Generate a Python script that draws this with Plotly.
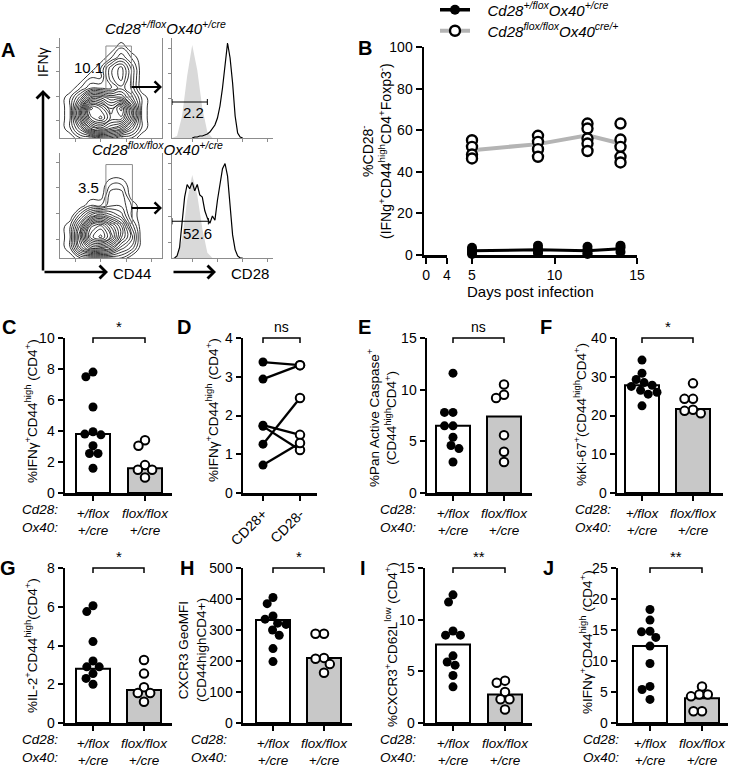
import math
import plotly.graph_objects as go

W, H = 732, 768
REG = "Liberation Sans, Arial, Helvetica, sans-serif"

# ======================= DATA =======================
# --- Panel A: flow cytometry (density grid, arbitrary units)
A_grid = [0, 1, 2, 3, 4, 5, 6, 7, 8, 9, 10]
A_top_density = [
    [0, 0, 1, 1, 2, 2, 1, 1, 0, 0, 0],
    [0, 1, 3, 6, 7, 6, 5, 3, 1, 0, 0],
    [0, 1, 5, 9, 10, 8, 8, 5, 1, 0, 0],
    [0, 1, 5, 10, 9, 7, 9, 5, 1, 0, 0],
    [0, 1, 3, 6, 6, 5, 5, 3, 1, 0, 0],
    [0, 0, 1, 2, 2, 2, 3, 2, 0, 0, 0],
    [0, 0, 0, 1, 1, 3, 4, 2, 0, 0, 0],
    [0, 0, 0, 0, 1, 3, 4, 2, 0, 0, 0],
    [0, 0, 0, 0, 0, 1, 2, 1, 0, 0, 0],
    [0, 0, 0, 0, 0, 0, 1, 0, 0, 0, 0],
    [0, 0, 0, 0, 0, 0, 0, 0, 0, 0, 0],
]
A_bottom_density = [
    [0, 0, 1, 1, 1, 1, 1, 0, 0, 0, 0],
    [0, 1, 4, 6, 6, 5, 3, 2, 0, 0, 0],
    [0, 1, 5, 9, 10, 8, 5, 3, 0, 0, 0],
    [0, 1, 4, 8, 9, 7, 5, 2, 0, 0, 0],
    [0, 0, 2, 4, 5, 4, 3, 1, 0, 0, 0],
    [0, 0, 0, 1, 1, 2, 2, 1, 0, 0, 0],
    [0, 0, 0, 0, 0, 2, 2, 0, 0, 0, 0],
    [0, 0, 0, 0, 0, 1, 1, 0, 0, 0, 0],
    [0, 0, 0, 0, 0, 0, 0, 0, 0, 0, 0],
    [0, 0, 0, 0, 0, 0, 0, 0, 0, 0, 0],
    [0, 0, 0, 0, 0, 0, 0, 0, 0, 0, 0],
]
A_iso_x = [0, 0.5, 1.0, 1.5, 2.0, 2.5, 3.0, 3.5, 4.0, 4.5]
A_top_iso_y = [0, 2, 22, 62, 93, 68, 30, 6, 0, 0]
A_bottom_iso_y = [0, 2, 18, 55, 79, 60, 28, 5, 0, 0]
A_top_cd28_x = [2.0, 2.25, 2.5, 2.75, 3.0, 3.25, 3.5, 3.75, 4.0, 4.25, 4.5, 4.75, 5.0,
                5.25, 5.5, 5.75, 6.0, 6.25, 6.5, 6.75, 7.0]
A_top_cd28_y = [0, 1, 1, 2, 2, 3, 4, 6, 9, 13, 20, 32, 50, 72, 95, 80, 55, 22, 5, 1, 0]
A_bottom_cd28_x = [0.25, 0.5, 0.75, 1.0, 1.25, 1.5, 1.75, 2.0, 2.25, 2.5, 2.75, 3.0, 3.25, 3.5,
                   3.75, 4.0, 4.25, 4.5, 4.75, 5.0, 5.25, 5.5, 5.75, 6.0, 6.25, 6.5, 6.75, 7.0]
A_bottom_cd28_y = [0, 2, 10, 35, 58, 70, 66, 72, 64, 70, 60, 58, 45, 38,
                   33, 40, 36, 55, 72, 85, 90, 78, 50, 22, 8, 2, 0, 0]
A_gate_pct = ["10.1", "3.5"]
A_hist_pct = ["2.2", "52.6"]

# --- Panel B: %CD28- over time
B_days = [5, 9, 12, 14]
B_het_points = [[3.5, 2.5, 1.5, 0.5], [4.5, 3.0, 1.5, 1.0], [4.0, 2.5, 1.0, 0.5], [4.5, 3.5, 1.5]]
B_het_mean = [2.0, 2.5, 2.0, 3.0]
B_ko_points = [[55.2, 52.0, 48.3, 46.4], [57.3, 54.4, 50.9, 47.2],
               [63.2, 60.8, 56.0, 53.6, 50.0], [63.2, 55.5, 52.0, 47.2, 44.5]]
B_ko_mean = [50.4, 53.3, 57.6, 53.6]
B_legend = ["<i>Cd28<sup>+/flox</sup>Ox40<sup>+/cre</sup></i>",
            "<i>Cd28<sup>flox/flox</sup>Ox40<sup>cre/+</sup></i>"]

# --- Panels C, E-J: individual mice + bar = mean
C_het = [7.8, 7.5, 5.55, 3.95, 3.8, 3.75, 3.05, 2.55, 2.55, 1.6]
C_ko = [3.4, 3.05, 1.8, 1.5, 1.5, 1.0]
C_bar = [3.8, 1.6]
E_het = [11.6, 7.8, 7.8, 6.5, 6.5, 5.4, 4.6, 4.3, 3.0]
E_ko = [10.5, 9.5, 9.2, 5.6, 4.0, 3.0]
E_bar = [6.5, 7.4]
F_het = [34.3, 30.9, 29.3, 28.5, 27.8, 27.5, 26.5, 26.0, 25.5, 22.5]
F_ko = [28.3, 24.3, 24.3, 21.5, 20.6, 21.2]
F_bar = [27.8, 21.7]
G_het = [6.05, 5.75, 4.2, 3.2, 2.9, 2.9, 2.55, 2.3, 2.0]
G_ko = [3.25, 2.55, 1.85, 1.55, 1.55, 1.1]
G_bar = [2.8, 1.7]
H_het = [405, 385, 345, 335, 322, 318, 300, 283, 240, 198]
H_ko = [288, 288, 210, 207, 190, 162]
H_bar = [332, 210]
I_het = [12.4, 11.7, 8.9, 8.5, 8.5, 6.5, 5.9, 5.6, 4.6, 3.5]
I_ko = [4.1, 3.9, 3.0, 2.3, 2.3, 1.3]
I_bar = [7.6, 2.75]
J_het = [18.3, 16.6, 14.8, 14.7, 13.8, 12.4, 9.6, 5.9, 5.4, 3.8]
J_ko = [5.9, 4.6, 4.6, 4.3, 1.9, 1.9]
J_bar = [12.4, 4.0]

# --- Panel D: paired CD28+ / CD28- within the same mouse
D_cd28pos = [3.38, 2.94, 1.75, 1.72, 1.26, 0.72]
D_cd28neg = [3.3, 3.3, 1.5, 1.11, 2.45, 1.29]
D_labels = ["CD28+", "CD28-"]

CAT_CD28 = ["+/flox", "flox/flox"]
CAT_OX40 = ["+/cre", "+/cre"]
ROW_LABELS = ["Cd28:", "Ox40:"]

Y_TITLES = {
    "C": "%IFNγ<sup>+</sup>CD44<sup>high</sup> (CD4<sup>+</sup>)",
    "D": "%IFNγ<sup>+</sup>CD44<sup>high</sup> (CD4<sup>+</sup>)",
    "E": "%Pan Active Caspase<sup>+</sup><br>(CD44<sup>high</sup>CD4<sup>+</sup>)",
    "F": "%Ki-67<sup>+</sup>(CD44<sup>high</sup>CD4<sup>+</sup>)",
    "G": "%IL-2<sup>+</sup>CD44<sup>high</sup>(CD4<sup>+</sup>)",
    "H": "CXCR3 GeoMFI<br>(CD44highCD4+)",
    "I": "%CXCR3<sup>+</sup>CD62L<sup>low</sup> (CD4<sup>+</sup>)",
    "J": "%IFNγ<sup>+</sup>CD44<sup>high</sup> (CD4<sup>+</sup>)",
}
SIG = {"C": "*", "D": "ns", "E": "ns", "F": "*", "G": "*", "H": "*", "I": "**", "J": "**"}
Y_MAX = {"C": (10, 2), "D": (4, 1), "E": (15, 5), "F": (40, 10),
         "G": (8, 2), "H": (500, 100), "I": (15, 5), "J": (25, 5)}

# ======================= LAYOUT GEOMETRY (pixels) =======================
GEOM = {  # y-axis x, x-axis end, category 0/1 centres, top, bottom, y-title centre, row-label x
    "C": dict(l=65, r=172, c0=93, c1=145, t=338, b=493, tx=31, ty=411, rx=40),
    "D": dict(l=243, r=317, c0=263, c1=300, t=338, b=493, tx=212, ty=410, rx=None),
    "E": dict(l=427, r=532, c0=453, c1=504, t=338, b=493, tx=381, ty=418, rx=398),
    "F": dict(l=617, r=723, c0=642, c1=693, t=338, b=493, tx=580, ty=415, rx=593),
    "G": dict(l=65, r=172, c0=93, c1=144, t=568, b=723, tx=31, ty=646, rx=40),
    "H": dict(l=243, r=352, c0=273, c1=324, t=568, b=723, tx=192, ty=650, rx=209),
    "I": dict(l=425, r=532, c0=453, c1=505, t=568, b=723, tx=391, ty=645, rx=398),
    "J": dict(l=618, r=728, c0=650, c1=702, t=568, b=723, tx=586, ty=642, rx=601),
}
LETTERS = {"A": (8, 50), "B": (365, 48), "C": (9, 327), "D": (184, 327), "E": (364, 327),
           "F": (546, 327), "G": (8, 568), "H": (187, 568), "I": (363, 568), "J": (548, 568)}

layout = dict(width=W, height=H, margin=dict(l=0, r=0, t=0, b=0, pad=0, autoexpand=False),
              autosize=False, paper_bgcolor="white", plot_bgcolor="white",
              font=dict(family=REG, size=14, color="black"))
traces, shapes, annots = [], [], []
n_axes = [0]


def add_axes(x0, x1, y0, y1, xkw, ykw):
    n_axes[0] += 1
    s = "" if n_axes[0] == 1 else str(n_axes[0])
    base = dict(showgrid=False, zeroline=False, fixedrange=True, automargin=False)
    layout["xaxis" + s] = dict(base, domain=[x0 / W, x1 / W], anchor="y" + s, **xkw)
    layout["yaxis" + s] = dict(base, domain=[1 - y1 / H, 1 - y0 / H], anchor="x" + s, **ykw)
    return "x" + s, "y" + s


def text_px(x, y, txt, size=14, angle=0, bold=False, **kw):
    annots.append(dict(x=x / W, y=1 - y / H, xref="paper", yref="paper", text=txt,
                       showarrow=False, textangle=angle, xanchor=kw.pop("xanchor", "center"),
                       yanchor=kw.pop("yanchor", "middle"),
                       font=dict(family=REG, size=size, color="black",
                                 weight="bold" if bold else "normal"), **kw))


def arrow_px(x0, y0, x1, y1, width=2.5):
    annots.append(dict(x=x1 / W, y=1 - y1 / H, xref="paper", yref="paper", ax=x0 - x1, ay=y0 - y1,
                       axref="pixel", ayref="pixel", text="", showarrow=True, arrowhead=4,
                       arrowsize=1, arrowwidth=width, arrowcolor="black", standoff=0, startstandoff=0))


def swarm(vals, ppu_y, ppu_x, d=8.5):
    placed, res = [], [0.0] * len(vals)
    for i in sorted(range(len(vals)), key=lambda k: -vals[k]):
        y = vals[i] * ppu_y
        cands = [0.0]
        for px, py in placed:
            dy = abs(py - y)
            if dy < d:
                dx = math.sqrt(d * d - dy * dy)
                cands += [px - dx, px + dx]
        cands.sort(key=lambda c: (round(abs(c), 6), c))
        for c in cands:
            if all((c - px) ** 2 + (y - py) ** 2 >= d * d - 1e-6 for px, py in placed):
                res[i] = c
                placed.append((c, y))
                break
    return [r / ppu_x for r in res]


FILLED = dict(size=9, color="black", line=dict(width=0))
OPEN = dict(size=8.5, color="white", line=dict(width=2, color="black"))

# ======================= PANEL A =======================
axA = dict(showline=True, linecolor="#8c8c8c", linewidth=1, ticks="outside", ticklen=3,
           tickcolor="#8c8c8c", tickwidth=1, showticklabels=False)
for dens, (y0, y1), iso_y, cx, cy, gate, hgate in [
    (A_top_density, (38, 138), A_top_iso_y, A_top_cd28_x, A_top_cd28_y,
     (4.5, 7.0, 4.1, 9.2), (3.5, 36)),
    (A_bottom_density, (153, 258), A_bottom_iso_y, A_bottom_cd28_x, A_bottom_cd28_y,
     (4.5, 7.1, 3.3, 8.9), (3.6, 35)),
]:
    xa, ya = add_axes(60, 162, y0, y1,
                      dict(range=[0, 10], tickvals=[1.5, 4, 6.5, 9], **axA),
                      dict(range=[0, 10], tickvals=[1.8, 4.2, 6.7, 9.1], mirror=True, **axA))
    traces.append(go.Contour(z=dens, x=A_grid, y=A_grid, xaxis=xa, yaxis=ya, showscale=False,
                             contours=dict(coloring="lines", start=0.45, end=10.2, size=0.55),
                             colorscale=[[0, "#000"], [1, "#000"]],
                             line=dict(width=0.8, smoothing=1.3), hoverinfo="skip"))
    shapes.append(dict(type="rect", xref=xa, yref=ya, x0=gate[0], x1=gate[1], y0=gate[2], y1=gate[3],
                       line=dict(color="#8c8c8c", width=1)))
    xh, yh = add_axes(172, 273, y0, y1,
                      dict(range=[0, 10], tickvals=[2, 4.5, 7, 9.5], **axA),
                      dict(range=[0, 100], tickvals=[15, 40, 65, 90], **axA))
    traces.append(go.Scatter(x=A_iso_x, y=iso_y, xaxis=xh, yaxis=yh, mode="lines", fill="tozeroy",
                             fillcolor="#d9d9d9", line=dict(width=0, color="#d9d9d9"),
                             showlegend=False, hoverinfo="skip"))
    traces.append(go.Scatter(x=cx, y=cy, xaxis=xh, yaxis=yh, mode="lines",
                             line=dict(width=1.2, color="black"), showlegend=False, hoverinfo="skip"))
    gx, gy = hgate
    shapes.append(dict(type="path", xref=xh, yref=yh, line=dict(color="black", width=1),
                       path=f"M0,{gy-3} L0,{gy+3} M0,{gy} L{gx},{gy} M{gx},{gy-3} L{gx},{gy+3}"))

text_px(88, 67, A_gate_pct[0], size=15)
text_px(88, 187, A_gate_pct[1], size=15)
text_px(193, 113, A_hist_pct[0], size=15)
text_px(197, 233, A_hist_pct[1], size=15)
text_px(165, 27, "<i>Cd28<sup>+/flox</sup>Ox40<sup>+/cre</sup></i>", size=15)
text_px(157, 148, "<i>Cd28<sup>flox/flox</sup>Ox40<sup>+/cre</sup></i>", size=15)
text_px(43, 62, "IFNγ", size=14, angle=-90)
text_px(132, 274, "CD44", size=15)
text_px(250, 274, "CD28", size=15)
arrow_px(43, 272, 43, 90)
arrow_px(43, 272, 108, 272)
arrow_px(172, 272, 216, 272)
arrow_px(130, 87, 162, 87, width=2.2)
arrow_px(130, 208, 162, 208, width=2.2)

# ======================= PANEL B =======================
axB = dict(showline=True, linecolor="black", linewidth=2.5, ticks="outside", ticklen=6,
           tickwidth=2, tickcolor="black", tickfont=dict(family=REG, size=14))
xB1, yB = add_axes(424, 447, 47, 255,
                   dict(range=[-0.4, 4], tickvals=[0, 4], **axB),
                   dict(range=[0, 100], tickvals=[0, 20, 40, 60, 80, 100], **axB))
n_axes[0] += 1
xB2 = "x" + str(n_axes[0])
layout["xaxis" + str(n_axes[0])] = dict(showgrid=False, zeroline=False, fixedrange=True, automargin=False,
                                        domain=[472 / W, 637 / W], anchor=yB, range=[5, 15],
                                        tickvals=[5, 10, 15], **axB)
traces.append(go.Scatter(x=[None], y=[None], xaxis=xB1, yaxis=yB, showlegend=False))


def flat(days, pts):
    xs, ys = [], []
    for d, p in zip(days, pts):
        xs += [d] * len(p)
        ys += p
    return xs, ys


GRAY = "#b4b4b4"
kx, ky = flat(B_days, B_ko_points)
hx, hy = flat(B_days, B_het_points)
traces.append(go.Scatter(x=B_days, y=B_ko_mean, xaxis=xB2, yaxis=yB, mode="lines",
                         line=dict(color=GRAY, width=4), showlegend=False, cliponaxis=False))
traces.append(go.Scatter(x=kx, y=ky, xaxis=xB2, yaxis=yB, mode="markers",
                         marker=dict(size=10, color="white", line=dict(width=2.4, color="black")),
                         showlegend=False, cliponaxis=False))
traces.append(go.Scatter(x=B_days, y=B_het_mean, xaxis=xB2, yaxis=yB, mode="lines",
                         line=dict(color="black", width=3), showlegend=False, cliponaxis=False))
traces.append(go.Scatter(x=hx, y=hy, xaxis=xB2, yaxis=yB, mode="markers",
                         marker=dict(size=10, color="black"), showlegend=False, cliponaxis=False))
# legend entries (one legend box per entry so their spacing can match)
PAD = "\u00a0\u00a0\u00a0"
traces.append(go.Scatter(x=[None], y=[None], xaxis=xB2, yaxis=yB, mode="lines+markers",
                         name=PAD + B_legend[0], legend="legend", line=dict(color="black", width=3.5),
                         marker=dict(size=10, color="black")))
traces.append(go.Scatter(x=[None], y=[None], xaxis=xB2, yaxis=yB, mode="lines+markers",
                         name=PAD + B_legend[1], legend="legend2", line=dict(color=GRAY, width=4),
                         marker=dict(size=10, color="white", line=dict(width=2.4, color="black"))))
leg = dict(xanchor="left", yanchor="middle", font=dict(family=REG, size=15),
           bgcolor="rgba(0,0,0,0)", itemwidth=30, borderwidth=0)
layout["legend"] = dict(leg, x=435 / W, y=1 - 10 / H)
layout["legend2"] = dict(leg, x=435 / W, y=1 - 31 / H)
text_px(376, 151, "%CD28<sup>-</sup><br>(IFNg<sup>+</sup>CD44<sup>high</sup>CD4<sup>+</sup>Foxp3<sup>-</sup>)",
        size=14, angle=-90)
text_px(530, 292, "Days post infection", size=15)

# ======================= PANELS C-J =======================
axBar = dict(showline=True, linecolor="black", linewidth=2.5, ticks="outside", ticklen=5,
             tickwidth=2, tickcolor="black")
BAR_DATA = {"C": (C_het, C_ko, C_bar), "E": (E_het, E_ko, E_bar), "F": (F_het, F_ko, F_bar),
            "G": (G_het, G_ko, G_bar), "H": (H_het, H_ko, H_bar), "I": (I_het, I_ko, I_bar),
            "J": (J_het, J_ko, J_bar)}

for key in ["C", "D", "E", "F", "G", "H", "I", "J"]:
    g = GEOM[key]
    ymax, dt = Y_MAX[key]
    ppx = g["c1"] - g["c0"]
    ppy = (g["b"] - g["t"]) / ymax
    xrng = [(g["l"] - g["c0"]) / ppx, (g["r"] - g["c0"]) / ppx]
    if key == "D":
        xkw = dict(range=xrng, tickvals=[0, 1], ticktext=D_labels, tickangle=-45,
                   tickfont=dict(family=REG, size=14), **axBar)
    else:
        xkw = dict(range=xrng, tickvals=[0, 1],
                   ticktext=[f"<i>{a}</i><br><i>{b}</i>" for a, b in zip(CAT_CD28, CAT_OX40)],
                   tickfont=dict(family=REG, size=13.5), ticklabelstandoff=1, **axBar)
    ykw = dict(range=[0, ymax], tickvals=list(range(0, ymax + 1, dt)),
               tickfont=dict(family=REG, size=14), **axBar)
    xa, ya = add_axes(g["l"], g["r"], g["t"], g["b"], xkw, ykw)

    if key == "D":
        lx, ly = [], []
        for a, b in zip(D_cd28pos, D_cd28neg):
            lx += [0, 1, None]
            ly += [a, b, None]
        traces.append(go.Scatter(x=lx, y=ly, xaxis=xa, yaxis=ya, mode="lines",
                                 line=dict(color="black", width=2.3), showlegend=False))
        traces.append(go.Scatter(x=[0] * len(D_cd28pos), y=D_cd28pos, xaxis=xa, yaxis=ya,
                                 mode="markers", marker=FILLED, showlegend=False, cliponaxis=False))
        traces.append(go.Scatter(x=[1] * len(D_cd28neg), y=D_cd28neg, xaxis=xa, yaxis=ya,
                                 mode="markers", marker=OPEN, showlegend=False, cliponaxis=False))
    else:
        het, ko, bar = BAR_DATA[key]
        traces.append(go.Bar(x=[0, 1], y=bar, xaxis=xa, yaxis=ya, width=34 / ppx,
                             marker=dict(color=["white", "#c8c8c8"], line=dict(color="black", width=2)),
                             showlegend=False))
        ox = swarm(het, ppy, ppx)
        traces.append(go.Scatter(x=[0 + o for o in ox], y=het, xaxis=xa, yaxis=ya, mode="markers",
                                 marker=FILLED, showlegend=False, cliponaxis=False))
        ox = swarm(ko, ppy, ppx)
        traces.append(go.Scatter(x=[1 + o for o in ox], y=ko, xaxis=xa, yaxis=ya, mode="markers",
                                 marker=OPEN, showlegend=False, cliponaxis=False))
        text_px(g["rx"], g["b"] + 7, "<br>".join(f"<i>{r}</i>" for r in ROW_LABELS),
                size=13.5, yanchor="top")

    # significance bracket
    tick = 5 / (g["b"] - g["t"])
    shapes.append(dict(type="path", xref=xa, yref=ya + " domain", line=dict(color="black", width=1.5),
                       path=f"M0,{1 - tick} L0,1 L1,1 L1,{1 - tick}"))
    annots.append(dict(x=0.5, y=1, xref=xa, yref=ya + " domain", text=SIG[key], showarrow=False,
                       yanchor="bottom", xanchor="center", yshift=1,
                       font=dict(family=REG, size=14 if SIG[key] == "ns" else 15, color="black")))
    text_px(g["tx"], g["ty"], Y_TITLES[key], size=13.5, angle=-90)

for k, (x, y) in LETTERS.items():
    text_px(x, y, k, size=20, bold=True)

layout["shapes"] = shapes
layout["annotations"] = annots
fig = go.Figure(data=traces, layout=layout)
fig.write_html("out.html", config={"displayModeBar": False, "staticPlot": True},
               post_script="document.body.style.margin='0';document.body.style.padding='0';")
